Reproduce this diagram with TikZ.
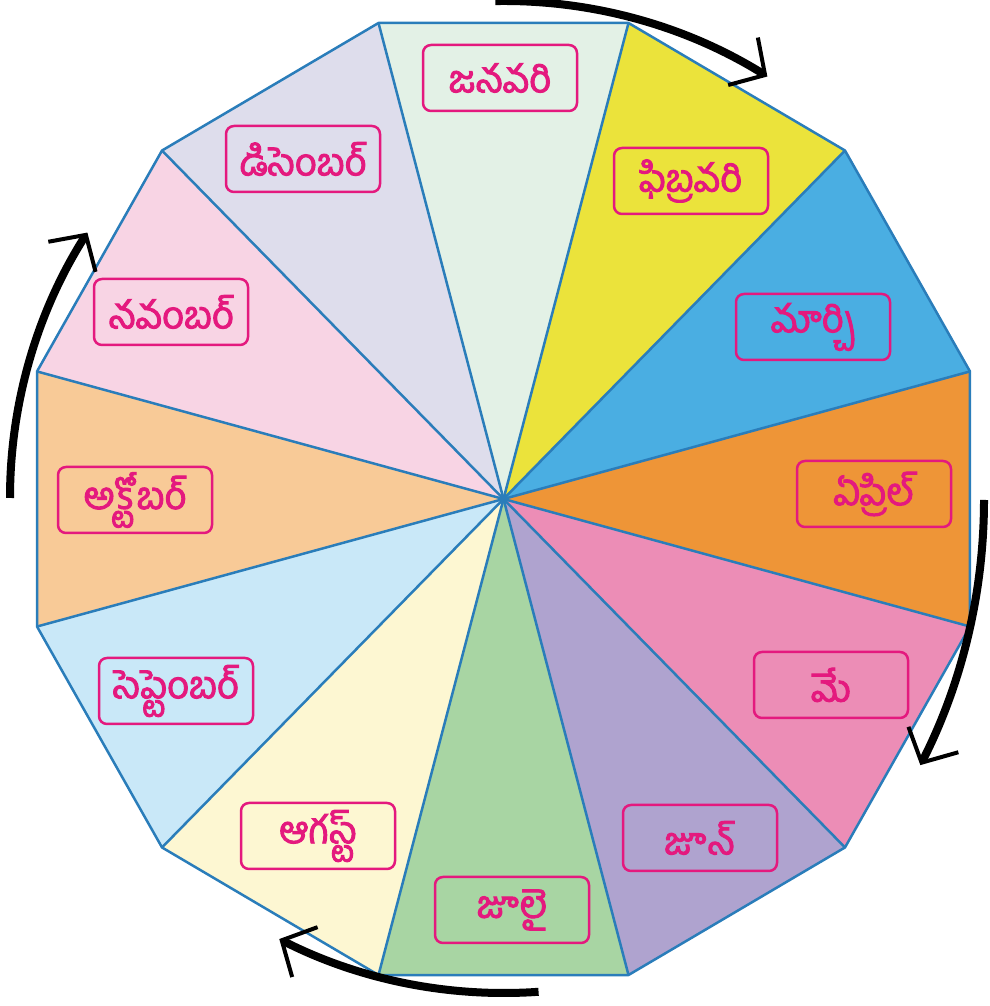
\documentclass[tikz,border=0pt]{standalone}
\usepackage{fontspec}
\newfontfamily\telugu[Script=Telugu, FakeBold=2.5]{Hind Guntur}
\usetikzlibrary{arrows.meta, calc}

\definecolor{edgeblue}{HTML}{2A7DBA}
\definecolor{labelpink}{HTML}{E4197E}
\definecolor{janfill}{HTML}{E3F1E6}
\definecolor{febfill}{HTML}{EBE33B}
\definecolor{marfill}{HTML}{4AAEE2}
\definecolor{aprfill}{HTML}{EE9537}
\definecolor{mayfill}{HTML}{EC8DB6}
\definecolor{junfill}{HTML}{AFA3CF}
\definecolor{julfill}{HTML}{A8D5A3}
\definecolor{augfill}{HTML}{FDF7D2}
\definecolor{sepfill}{HTML}{C9E8F8}
\definecolor{octfill}{HTML}{F8CA97}
\definecolor{novfill}{HTML}{F8D4E4}
\definecolor{decfill}{HTML}{DEDDEC}

\begin{document}
\begin{tikzpicture}[
        x=1pt, y=1pt,
        spoke/.style={draw=edgeblue, line width=2.5pt, line join=round},
        month/.style={draw=labelpink, line width=2.5pt, rounded corners=8pt,
            minimum width=154pt, minimum height=66pt, inner sep=0pt,
            text=labelpink, font=\telugu\fontsize{38}{44}\selectfont},
        turn/.style={line width=8pt,
            -{Straight Barb[length=26pt, width=56pt, line width=4pt]}}
    ]
    \useasboundingbox (0,0) rectangle (989,1006);

    % Wheel
    \begin{scope}[shift={(503.5,507)}, xscale=0.98]
        \coordinate (c) at (0,0);
        \foreach \i in {0,...,11}
            \coordinate (v\i) at ({15+30*\i}:492.8);
        \foreach \clr [count=\i from 0] in {janfill, febfill, marfill, aprfill,
                mayfill, junfill, julfill, augfill, sepfill, octfill, novfill, decfill} {
            \pgfmathtruncatemacro\a{mod(14-\i,12)}
            \pgfmathtruncatemacro\b{mod(15-\i,12)}
            \fill[\clr] (c) -- (v\a) -- (v\b) -- cycle;
        }
        \foreach \i in {0,...,11}
            \draw[spoke] (c) -- (v\i);
        \draw[spoke] (v0) -- (v1) -- (v2) -- (v3) -- (v4) -- (v5) -- (v6)
            -- (v7) -- (v8) -- (v9) -- (v10) -- (v11) -- cycle;
    \end{scope}

    % Months
    \node[month] (jan) at (500,928) {జనవరి};
    \node[month] (feb) at (691,825) {ఫిబ్రవరి};
    \node[month] (mar) at (813,679) {మార్చి};
    \node[month] (apr) at (874,512) {ఏప్రిల్};
    \node[month] (may) at (831,321) {మే};
    \node[month] (jun) at (700,168) {జూన్};
    \node[month] (jul) at (512,96) {జూలై};
    \node[month] (aug) at (318,170) {ఆగస్ట్};
    \node[month] (sep) at (176,315) {సెప్టెంబర్};
    \node[month] (oct) at (135,506) {అక్టోబర్};
    \node[month] (nov) at (171,694) {నవంబర్};
    \node[month] (dec) at (303,847) {డిసెంబర్};

    % Arrows round the wheel
    \coordinate (o) at (504,508);
    \draw[turn] ($(o)+(91:497)$) arc[start angle=91, end angle=58, radius=497];
    \draw[turn] ($(400,506)+(0:584)$) arc[start angle=0, end angle=-27, radius=584];
    \draw[turn] ($(o)+(-86:495)$) arc[start angle=-86, end angle=-117, radius=495];
    \draw[turn] ($(o)+(180:494)$) arc[start angle=180, end angle=147.5, radius=494];
\end{tikzpicture}
\end{document}
